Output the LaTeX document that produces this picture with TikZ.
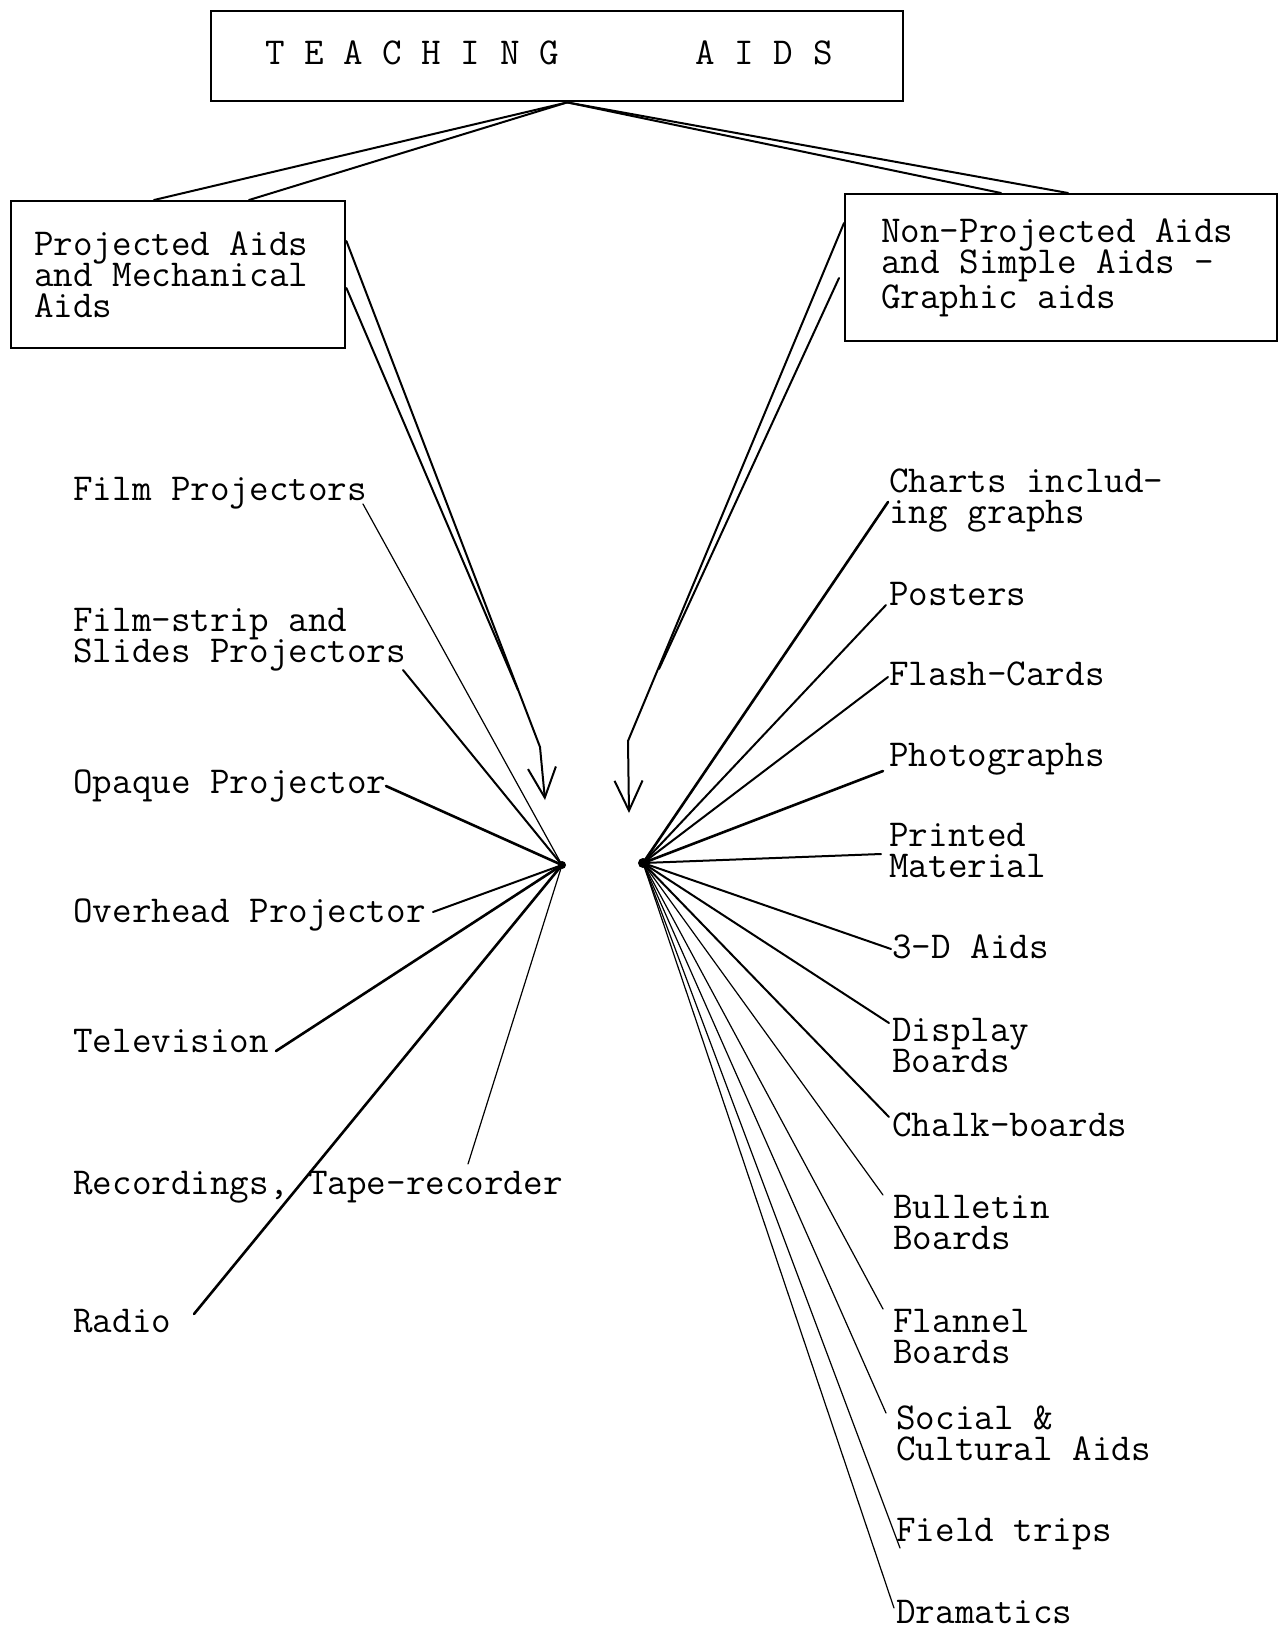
\documentclass[tikz,border=0pt]{standalone}
\usetikzlibrary{arrows.meta,calc}
\newcommand{\twol}[2]{\vtop{\lineskiplimit=-20pt\hbox{#1}\hbox{#2}}}
\newcommand{\fixsp}{\spaceskip=0pt\xspaceskip=0pt\lineskiplimit=-20pt\relax}
\begin{document}
\begin{tikzpicture}[x=0.5pt,y=-0.5pt,
  every node/.style={font=\fontsize{19}{15.6}\selectfont\ttfamily, inner sep=0pt},
  lbl/.style={anchor=base west},
  boxn/.style={draw, line width=1.2pt, anchor=north west, align=left},
  conn/.style={line width=1pt, line cap=round},
  thinc/.style={line width=0.6pt, line cap=round},
  thickc/.style={line width=1.3pt, line cap=round},
  barb/.style={-{Straight Barb[length=15pt,width=14pt,line width=1pt]}}
]
\useasboundingbox[fill=white] (0,0) rectangle (1280,1629);

% boxes
\node[boxn, inner xsep=27pt, text width=292pt, minimum height=45pt, text depth=4pt] (T) at (210,10) {\fixsp T~E~A~C~H~I~N~G~~~~~~~A~I~D~S};
\node[boxn, inner xsep=11.5pt, text width=144pt, minimum height=73.5pt] (L) at (10,200) {\fixsp Projected Aids\\and Mechanical\\Aids};
\node[boxn, inner xsep=18pt, text width=180pt, minimum height=73.5pt] (R) at (844,193) {\fixsp Non-Projected Aids\\and Simple Aids -\\Graphic aids};

% key points
\coordinate (apex) at ($(T.south)+(10,0)$);
\coordinate (hubL) at (562,865);
\coordinate (hubR) at (643,863);
\coordinate (tipL) at (545,800);
\coordinate (bendL) at (540,747);
\coordinate (mergeL) at (518,690);
\coordinate (tipR) at (629,813);
\coordinate (bendR) at (628,741);
\coordinate (mergeR) at (659,669);

% top connectors
\draw[conn] (apex) -- ($(L.north west)+(144,0)$);
\draw[conn] (apex) -- ($(L.north west)+(239,0)$);
\draw[conn] (apex) -- ($(R.north west)+(157,0)$);
\draw[conn] (apex) -- ($(R.north west)+(224,0)$);

% arrows from boxes
\draw[conn,barb] ($(L.north east)+(0,41)$) -- (bendL) -- (tipL);
\draw[conn] ($(L.north east)+(0,88)$) -- (mergeL);
\draw[conn,barb] ($(R.north west)+(0,30)$) -- (bendR) -- (tipR);
\draw[conn] ($(R.north west)+(-5,85)$) -- (mergeR);

% left labels
\node[lbl] (film) at (73,500) {Film Projectors};
\node[lbl] (strip) at (73,631) {\twol{Film-strip and}{Slides Projectors}};
\node[lbl] (opaque) at (73,793) {Opaque Projector};
\node[lbl] (ohp) at (73,922) {Overhead Projector};
\node[lbl] (tv) at (73,1052) {Television};
\node[lbl] (rec) at (73,1194) {Recordings, Tape-recorder};
\node[lbl] (radio) at (73,1332) {Radio};

\coordinate (eFilm) at (363,504);
\coordinate (eStrip) at (403,670);
\coordinate (eOpaque) at (386,786);
\coordinate (eOhp) at (433,912);
\coordinate (eTv) at (276,1051);
\coordinate (eRec) at (468,1164);
\coordinate (eRadio) at (194,1314);

\draw[thinc] (eFilm) -- (hubL);
\draw[conn] (eStrip) -- (hubL);
\draw[thickc] (eOpaque) -- (hubL);
\draw[conn] (eOhp) -- (hubL);
\draw[thickc] (eTv) -- (hubL);
\draw[thinc] (eRec) -- (hubL);
\draw[thickc] (eRadio) -- (hubL);

% right labels
\node[lbl] (charts) at (889,492) {\twol{Charts includ-}{ing graphs}};
\node[lbl] (posters) at (889,605) {Posters};
\node[lbl] (flash) at (889,685) {Flash-Cards};
\node[lbl] (photo) at (889,766) {Photographs};
\node[lbl] (printed) at (889,846) {\twol{Printed}{Material}};
\node[lbl] (threed) at (892,958) {3-D Aids};
\node[lbl] (display) at (892,1041) {\twol{Display}{Boards}};
\node[lbl] (chalk) at (892,1136) {Chalk-boards};
\node[lbl] (bulletin) at (893,1218) {\twol{Bulletin}{Boards}};
\node[lbl] (flannel) at (893,1332) {\twol{Flannel}{Boards}};
\node[lbl] (social) at (896,1429) {\twol{Social \&}{Cultural Aids}};
\node[lbl] (field) at (896,1541) {Field trips};
\node[lbl] (drama) at (896,1623) {Dramatics};

\coordinate (eCharts) at (888,502);
\coordinate (ePosters) at (886,605);
\coordinate (eFlash) at (888,677);
\coordinate (ePhoto) at (883,771);
\coordinate (ePrinted) at (881,854);
\coordinate (eThreed) at (891,949);
\coordinate (eDisplay) at (889,1023);
\coordinate (eChalk) at (889,1117);
\coordinate (eBulletin) at (883,1195);
\coordinate (eFlannel) at (883,1309);
\coordinate (eSocial) at (886,1413);
\coordinate (eField) at (900,1548);
\coordinate (eDrama) at (894,1608);

\draw[thickc] (eCharts) -- (hubR);
\draw[conn] (ePosters) -- (hubR);
\draw[conn] (eFlash) -- (hubR);
\draw[thickc] (ePhoto) -- (hubR);
\draw[conn] (ePrinted) -- (hubR);
\draw[conn] (eThreed) -- (hubR);
\draw[conn] (eDisplay) -- (hubR);
\draw[conn] (eChalk) -- (hubR);
\draw[thinc] (eBulletin) -- (hubR);
\draw[thinc] (eFlannel) -- (hubR);
\draw[thinc] (eSocial) -- (hubR);
\draw[thinc] (eField) -- (hubR);
\draw[thinc] (eDrama) -- (hubR);

\fill (hubL) circle[radius=2pt];
\fill (hubR) circle[radius=2.5pt];
\end{tikzpicture}
\end{document}
